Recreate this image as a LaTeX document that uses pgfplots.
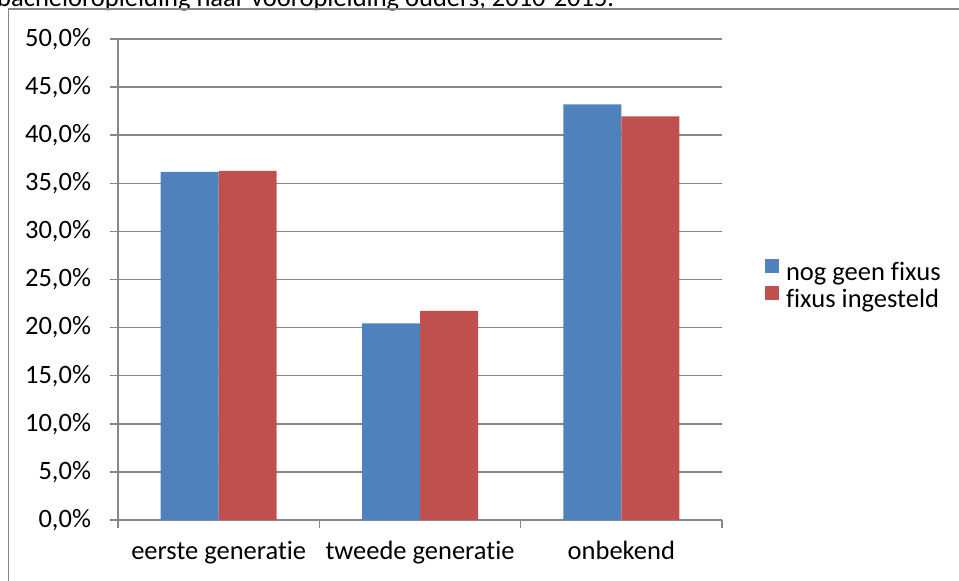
\documentclass[border=0pt]{standalone}
\usepackage{pgfplots}
\pgfplotsset{compat=1.18}
\usepackage{fontspec}
\setmainfont{Carlito}[Ligatures=NoCommon]
\definecolor{barblue}{HTML}{4F81BD}
\definecolor{barred}{HTML}{C0504D}
\definecolor{gridgray}{HTML}{868686}
\begin{document}
\fontsize{26.5}{31}\selectfont
\begin{tikzpicture}[x=1pt,y=1pt]
\useasboundingbox (0,0) rectangle (959,581);
\clip (0,0) rectangle (959,581);
% title, mostly cut off at the top
\node[anchor=base west, inner sep=0pt] at (-3,574.5) {bacheloropleiding naar vooropleiding ouders, 2010-2015.};
% chart frame
\draw[gridgray, line width=1.5pt] (8.5,-10) -- (8.5,572) -- (980,572);
\begin{axis}[
  at={(118pt,61pt)}, anchor=south west,
  scale only axis, width=604pt, height=481pt,
  xmin=-0.5, xmax=2.5, ymin=0, ymax=50,
  ybar=0pt, bar width=58pt,
  axis x line*=bottom, axis y line*=left,
  axis line style={-, gridgray, line width=1.5pt},
  ymajorgrids, grid style={gridgray, line width=1.5pt},
  tick align=outside, major tick length=8pt,
  tick style={gridgray, line width=1.5pt},
  ytick={0,5,...,50},
  /pgf/number format/assume math mode=true,
  yticklabel={\pgfmathprintnumber[fixed,fixed zerofill,precision=1,use comma]{\tick}\%},
  yticklabel style={anchor=east, xshift=-10pt},
  xtick={-0.5,0.5,1.5,2.5}, xticklabels={},
  extra x ticks={0,1,2},
  extra x tick labels={eerste generatie, tweede generatie, onbekend},
  extra x tick style={major tick length=0pt, xticklabel style={anchor=base, yshift=-40pt}},
  legend style={at={(1.066,0.486)}, anchor=west, draw=none, fill=none,
    font=\fontsize{26.5}{31}\selectfont, row sep=0pt,
    /tikz/every odd column/.append style={column sep=5pt}},
  legend cell align=left,
  legend image code/.code={\fill[#1] (0pt,0pt) rectangle (14pt,14pt);},
]
\addplot[fill=barblue, draw=none] coordinates {(0,36.2) (1,20.45) (2,43.2)};
\addplot[fill=barred, draw=none] coordinates {(0,36.3) (1,21.75) (2,41.95)};
\legend{nog geen fixus, fixus ingesteld}
\end{axis}
\end{tikzpicture}
\end{document}
